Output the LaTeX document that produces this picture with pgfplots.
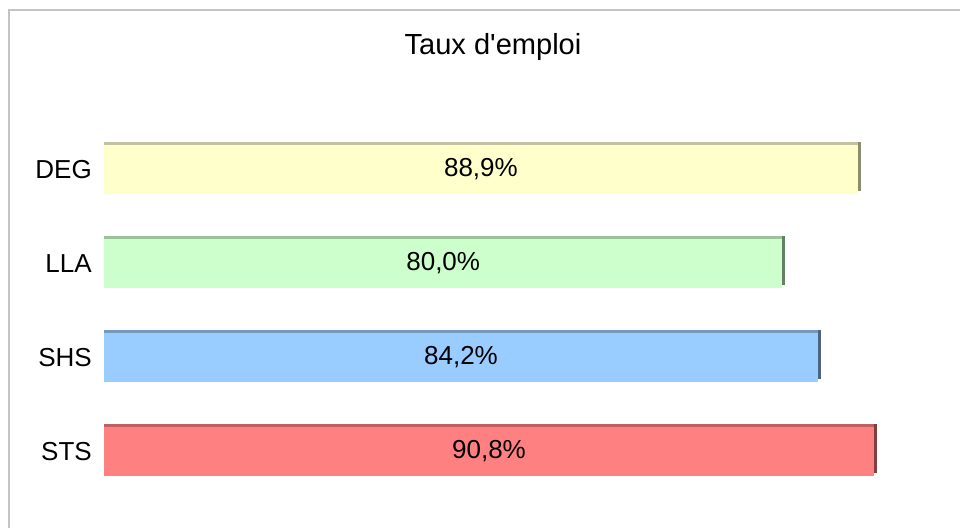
\documentclass[border=0pt]{standalone}
\usepackage{pgfplots}
\pgfplotsset{compat=1.18}
\usepackage{fontspec}
\setmainfont{Liberation Sans}[Ligatures=TeXOff]

\definecolor{framegray}{HTML}{C4C4C4}
\definecolor{degfill}{HTML}{FFFFCC}
\definecolor{degtop}{HTML}{C2C2A0}
\definecolor{degside}{HTML}{8C8C6E}
\definecolor{llafill}{HTML}{CCFFCC}
\definecolor{llatop}{HTML}{9CC29C}
\definecolor{llaside}{HTML}{668066}
\definecolor{shsfill}{HTML}{99CCFF}
\definecolor{shstop}{HTML}{7399BF}
\definecolor{shsside}{HTML}{4D6680}
\definecolor{stsfill}{HTML}{FF8080}
\definecolor{ststop}{HTML}{BF6060}
\definecolor{stsside}{HTML}{804040}

\pgfplotsset{
  valuelabel/.style={
    nodes near coords={\pgfmathprintnumber[fixed,fixed zerofill,precision=1,use comma,assume math mode=true]{\pgfplotspointmeta}\%},
    visualization depends on={x \as \xval},
    every node near coord/.append style={anchor=center, text=black,
      font=\fontsize{19.5}{23}\selectfont,
      shift={(axis direction cs:-\xval/2,0)}},
  },
}

\begin{document}
\begin{tikzpicture}
\useasboundingbox (0,0) rectangle (720pt,-396pt);
\draw[line width=1.5pt, framegray] (6.75pt,-396pt) -- (6.75pt,-7.5pt) -- (720pt,-7.5pt);
\node[anchor=base, font=\fontsize{21.8}{26}\selectfont] at (369.75pt,-41.25pt) {Taux d'emploi};

\begin{axis}[
    at={(78pt,-91.875pt)}, anchor=north west,
    scale only axis, width=636pt, height=282pt,
    xbar, bar width=36.75pt, bar shift=0pt,
    xmin=0, xmax=100, ymin=-0.5, ymax=3.5,
    axis line style={draw=none},
    xtick=\empty,
    ytick={0,1,2,3},
    yticklabels={STS,SHS,LLA,DEG},
    major tick length=0pt,
    yticklabel style={font=\fontsize{19.5}{23}\selectfont, inner sep=0pt, xshift=-9pt},
    clip=false,
]
% right edge (3D side)
\addplot[draw=none, fill=degside] coordinates {(89.25,3.032)};
\addplot[draw=none, fill=llaside] coordinates {(80.35,2.032)};
\addplot[draw=none, fill=shsside] coordinates {(84.55,1.032)};
\addplot[draw=none, fill=stsside] coordinates {(91.15,0.032)};
% top edge
\addplot[draw=none, fill=degtop] coordinates {(88.9,3.032)};
\addplot[draw=none, fill=llatop] coordinates {(80.0,2.032)};
\addplot[draw=none, fill=shstop] coordinates {(84.2,1.032)};
\addplot[draw=none, fill=ststop] coordinates {(90.8,0.032)};
% bars
\addplot[draw=none, fill=degfill, valuelabel] coordinates {(88.9,3)};
\addplot[draw=none, fill=llafill, valuelabel] coordinates {(80.0,2)};
\addplot[draw=none, fill=shsfill, valuelabel] coordinates {(84.2,1)};
\addplot[draw=none, fill=stsfill, valuelabel] coordinates {(90.8,0)};
\end{axis}
\end{tikzpicture}
\end{document}
